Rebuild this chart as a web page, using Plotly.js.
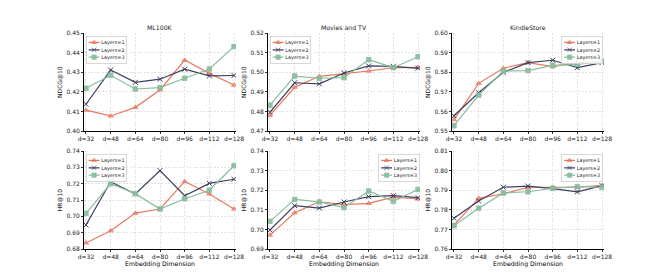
<!DOCTYPE html>
<html><head><meta charset="utf-8">
<script src="https://cdn.plot.ly/plotly-3.0.1.min.js"></script>
<style>html,body{margin:0;padding:0;background:#fff}#chart{width:672px;height:280px}</style>
</head><body><div id="chart"></div>
<script>
// ---------- data ----------
const dims = ['d=32','d=48','d=64','d=80','d=96','d=112','d=128'];
const seriesNames = ['Layers=1','Layers=2','Layers=3'];
const datasetNames = ['ML100K','Movies and TV','KindleStore'];

const ndcgML100K_L1 = [0.4107,0.4077,0.4121,0.4210,0.4363,0.4295,0.4235];
const ndcgML100K_L2 = [0.4137,0.4312,0.4249,0.4265,0.4316,0.4282,0.4284];
const ndcgML100K_L3 = [0.4219,0.4285,0.4215,0.4222,0.4270,0.4317,0.4432];

const ndcgMovies_L1 = [0.4780,0.4924,0.4980,0.4992,0.5007,0.5024,0.5026];
const ndcgMovies_L2 = [0.4796,0.4947,0.4941,0.4997,0.5033,0.5031,0.5021];
const ndcgMovies_L3 = [0.4832,0.4981,0.4970,0.4973,0.5065,0.5024,0.5080];

const ndcgKindle_L1 = [0.5558,0.5744,0.5821,0.5850,0.5829,0.5850,0.5855];
const ndcgKindle_L2 = [0.5578,0.5696,0.5800,0.5850,0.5862,0.5824,0.5850];
const ndcgKindle_L3 = [0.5527,0.5684,0.5807,0.5809,0.5836,0.5841,0.5858];

const hrML100K_L1 = [0.6837,0.6912,0.7020,0.7045,0.7214,0.7137,0.7045];
const hrML100K_L2 = [0.6947,0.7212,0.7137,0.7280,0.7126,0.7202,0.7227];
const hrML100K_L3 = [0.7018,0.7200,0.7139,0.7045,0.7108,0.7160,0.7310];

const hrMovies_L1 = [0.6971,0.7085,0.7141,0.7126,0.7133,0.7165,0.7155];
const hrMovies_L2 = [0.6997,0.7121,0.7109,0.7140,0.7167,0.7172,0.7162];
const hrMovies_L3 = [0.7041,0.7153,0.7140,0.7111,0.7196,0.7143,0.7204];

const hrKindle_L1 = [0.7722,0.7859,0.7881,0.7915,0.7915,0.7915,0.7925];
const hrKindle_L2 = [0.7757,0.7845,0.7915,0.7921,0.7908,0.7892,0.7923];
const hrKindle_L3 = [0.7719,0.7808,0.7886,0.7892,0.7910,0.7918,0.7915];

const yRanges = [[0.40,0.45],[0.47,0.52],[0.55,0.60],[0.68,0.74],[0.69,0.74],[0.76,0.81]];

// ---------- style ----------
const colors = ['#E8795F','#3D3F5F','#88BD9D'];
const fills  = ['rgba(232,121,95,0.55)','#3D3F5F','rgba(136,189,157,0.9)'];
const symbols = ['triangle-up','x-thin','square'];
const FONT = 'DejaVu Sans, Liberation Sans, sans-serif';
const TXT = '#1a1a1a';

const panels = [
  {sets:[ndcgML100K_L1,ndcgML100K_L2,ndcgML100K_L3], ytitle:'NDCG@10', title:datasetNames[0]},
  {sets:[ndcgMovies_L1,ndcgMovies_L2,ndcgMovies_L3], ytitle:'NDCG@10', title:datasetNames[1]},
  {sets:[ndcgKindle_L1,ndcgKindle_L2,ndcgKindle_L3], ytitle:'NDCG@10', title:datasetNames[2]},
  {sets:[hrML100K_L1,hrML100K_L2,hrML100K_L3], ytitle:'HR@10', xtitle:'Embedding Dimension'},
  {sets:[hrMovies_L1,hrMovies_L2,hrMovies_L3], ytitle:'HR@10', xtitle:'Embedding Dimension'},
  {sets:[hrKindle_L1,hrKindle_L2,hrKindle_L3], ytitle:'HR@10', xtitle:'Embedding Dimension'}
];

const W = 672, H = 280;
const colLeft = [84, 268, 452], colW = 152;
const rowTop = [33.3, 151], rowBot = [131, 249];
// legend placement (pixels): side, x, top
const legendPos = [
  {side:'left', x:86, y:36}, {side:'left', x:270, y:36}, {side:'right', x:602, y:36},
  {side:'left', x:86, y:154}, {side:'right', x:419, y:154}, {side:'right', x:602, y:154}
];

const traces = [];
const layout = {
  width: W, height: H,
  margin: {l:0, r:0, t:0, b:0},
  paper_bgcolor: '#fff', plot_bgcolor: '#fff',
  font: {family: FONT, size: 6, color: TXT},
  showlegend: true,
  annotations: []
};

panels.forEach((p, i) => {
  const n = i + 1;
  const sfx = n === 1 ? '' : String(n);
  const col = i % 3, row = Math.floor(i / 3);
  const legId = n === 1 ? 'legend' : 'legend' + n;
  p.sets.forEach((vals, k) => {
    traces.push({
      type: 'scatter', mode: 'lines+markers',
      x: dims, y: vals, name: seriesNames[k],
      xaxis: 'x' + sfx, yaxis: 'y' + sfx,
      legend: legId,
      line: {color: colors[k], width: 1.2},
      marker: {symbol: symbols[k], size: k === 1 ? 5 : 4.5, color: fills[k],
               line: {color: colors[k], width: k === 1 ? 1 : 0.8}},
      hoverinfo: 'skip'
    });
  });
  const xa = {
    domain: [colLeft[col] / W, (colLeft[col] + colW) / W],
    anchor: 'y' + sfx,
    type: 'category', categoryorder: 'array', categoryarray: dims,
    range: [-0.08, 6.08],
    showline: true, linecolor: '#000', linewidth: 1,
    ticks: 'outside', ticklen: 2, tickwidth: 0.8, tickcolor: '#000',
    showgrid: true, gridcolor: '#cfcfcf', gridwidth: 0.6, griddash: '2px,1.5px',
    zeroline: false,
    tickfont: {size: 6, family: FONT, color: TXT}
  };
  if (p.xtitle) xa.title = {text: p.xtitle, font: {size: 6.2, family: FONT, color: '#000000'}, standoff: 0};
  const ya = {
    domain: [1 - rowBot[row] / H, 1 - rowTop[row] / H],
    anchor: 'x' + sfx,
    range: yRanges[i], dtick: 0.01, tick0: 0, tickformat: '.2f',
    showline: true, linecolor: '#000', linewidth: 1,
    ticks: 'outside', ticklen: 2, tickwidth: 0.8, tickcolor: '#000',
    showgrid: true, gridcolor: '#cfcfcf', gridwidth: 0.6, griddash: '2px,1.5px',
    zeroline: false,
    tickfont: {size: 6, family: FONT, color: TXT},
    title: {text: p.ytitle, font: {size: 6, family: FONT, color: TXT}, standoff: 3}
  };
  layout['xaxis' + sfx] = xa;
  layout['yaxis' + sfx] = ya;
  layout[legId] = {
    x: legendPos[i].x / W, y: 1 - legendPos[i].y / H,
    xanchor: legendPos[i].side, yanchor: 'top',
    xref: 'paper', yref: 'paper',
    bgcolor: 'rgba(255,255,255,0.85)', bordercolor: '#d4d4d4', borderwidth: 2.5,
    font: {size: 13.5, family: FONT, color: TXT},
    itemsizing: 'constant', itemwidth: 30, tracegroupgap: 0
  };
  if (p.title) {
    layout.annotations.push({
      text: p.title, xref: 'paper', yref: 'paper',
      x: (colLeft[col] + colW / 2) / W, y: 1 - 28 / H,
      xanchor: 'center', yanchor: 'middle', showarrow: false,
      font: {size: 6.2, family: FONT, color: TXT}
    });
  }
});

const gd = document.getElementById('chart');
Plotly.newPlot(gd, traces, layout, {staticPlot: true, displayModeBar: false}).then(() => {
  const s = 0.36;
  legendPos.forEach((lp, i) => {
    const legId = i === 0 ? 'legend' : 'legend' + (i + 1);
    const g = gd.querySelector('g.' + legId);
    if (!g) return;
    const bg = g.querySelector('rect.bg');
    const w = bg ? parseFloat(bg.getAttribute('width')) : g.getBBox().width;
    const x = lp.side === 'left' ? lp.x : lp.x - w * s;
    g.setAttribute('transform', 'translate(' + x + ',' + lp.y + ') scale(' + s + ')');
    g.querySelectorAll('.legendlines path').forEach(pth => { pth.style.strokeWidth = '3.5px'; });
  });
});
</script></body></html>
